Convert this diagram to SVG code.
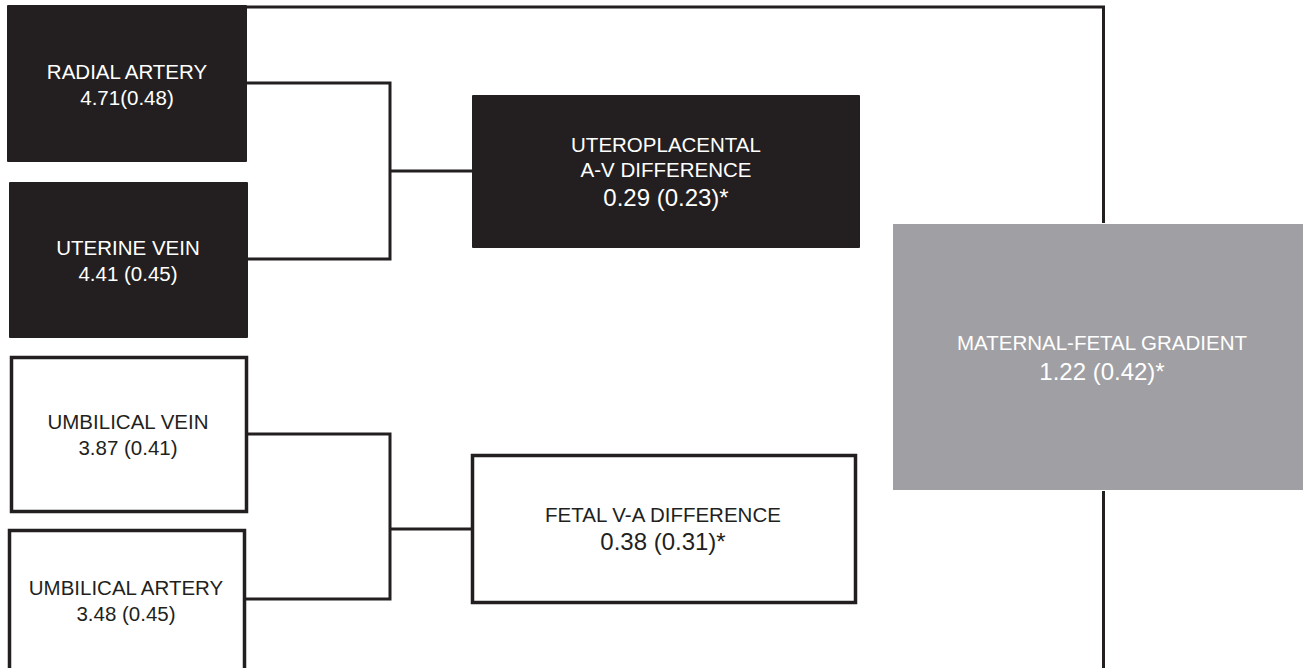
<svg xmlns="http://www.w3.org/2000/svg" width="1303" height="668" viewBox="0 0 1303 668">
<style>
.dark{fill:#231f20;}
.white{fill:#ffffff;stroke:#231f20;stroke-width:3.5;}
.gray{fill:#a0a0a4;}
.conn{fill:none;stroke:#231f20;stroke-width:3;stroke-linejoin:miter;}
text{font-family:"Liberation Sans",Arial,sans-serif;font-size:20.5px;text-anchor:middle;}
.lt{fill:#ffffff;}
.dk{fill:#231f20;}
.big{font-size:24px;}
</style>
<rect width="1303" height="668" fill="#ffffff"/>
<g id="connectors">
<path class="conn" d="M246 7 H1103.5 V223"/>
<path class="conn" d="M1103.5 491 V668"/>
<path class="conn" d="M246 83 H390 V259 H247"/>
<path class="conn" d="M390 171 H473"/>
<path class="conn" d="M246 434 H390 V599 H244"/>
<path class="conn" d="M390 529 H471"/>
</g>
<g id="radial-artery">
<rect class="dark" x="7" y="5" width="240" height="157" rx="1"/>
<text class="lt" x="127" y="79">RADIAL ARTERY</text>
<text class="lt" x="127" y="105">4.71(0.48)</text>
</g>
<g id="uterine-vein">
<rect class="dark" x="9" y="182" width="239" height="156" rx="1"/>
<text class="lt" x="128" y="255">UTERINE VEIN</text>
<text class="lt" x="128" y="281">4.41 (0.45)</text>
</g>
<g id="umbilical-vein">
<rect class="white" x="11.5" y="357.5" width="235" height="154"/>
<text class="dk" x="128" y="429">UMBILICAL VEIN</text>
<text class="dk" x="128" y="455">3.87 (0.41)</text>
</g>
<g id="umbilical-artery">
<rect class="white" x="9.5" y="530.5" width="235" height="150"/>
<text class="dk" x="126" y="595">UMBILICAL ARTERY</text>
<text class="dk" x="126" y="621">3.48 (0.45)</text>
</g>
<g id="uteroplacental">
<rect class="dark" x="472" y="95" width="388" height="153" rx="1"/>
<text class="lt" x="666" y="152">UTEROPLACENTAL</text>
<text class="lt" x="666" y="177">A-V DIFFERENCE</text>
<text class="lt big" x="666" y="206">0.29 (0.23)*</text>
</g>
<g id="fetal-va">
<rect class="white" x="472.5" y="455.5" width="383" height="147"/>
<text class="dk" x="663" y="522">FETAL V-A DIFFERENCE</text>
<text class="dk big" x="663" y="550">0.38 (0.31)*</text>
</g>
<g id="maternal-fetal">
<rect class="gray" x="893" y="224" width="410" height="266"/>
<text class="lt" x="1102" y="350">MATERNAL-FETAL GRADIENT</text>
<text class="lt big" x="1102" y="380">1.22 (0.42)*</text>
</g>
</svg>
